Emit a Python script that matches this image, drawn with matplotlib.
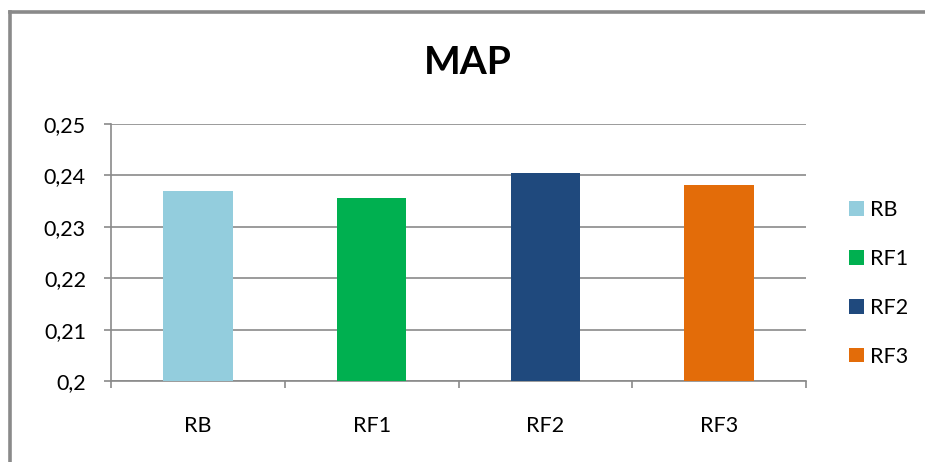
import matplotlib
matplotlib.use("Agg")
import matplotlib.pyplot as plt
from matplotlib.patches import Patch
from matplotlib.lines import Line2D

# Data
categories = ["RB", "RF1", "RF2", "RF3"]
map_values = [0.2370, 0.2356, 0.2405, 0.2382]
bar_colors = ["#93CDDD", "#00B050", "#1F497D", "#E36C09"]
y_ticks = [0.20, 0.21, 0.22, 0.23, 0.24, 0.25]
y_labels = ["0,2", "0,21", "0,22", "0,23", "0,24", "0,25"]

plt.rcParams['font.family'] = ['Lato', 'DejaVu Sans']
grey = "#8A8A8A"

W, H = 925, 462
fig = plt.figure(figsize=(W / 100, H / 100), dpi=100)
ax = fig.add_axes([111 / W, 1 - 381 / H, (806 - 111) / W, (381 - 124) / H])

x = list(range(len(categories)))
ax.bar(x, map_values, width=0.4, color=bar_colors, zorder=3)

ax.set_ylim(0.2, 0.25)
ax.set_xlim(-0.5, len(categories) - 0.5)
ax.set_yticks(y_ticks)
ax.set_yticklabels(y_labels)
ax.set_xticks(x)
ax.set_xticklabels(categories)
ax.set_xticks([i - 0.5 for i in range(len(categories) + 1)], minor=True)

ax.grid(axis='y', color=grey, linewidth=1.2, zorder=0)
for s in ["top", "right"]:
    ax.spines[s].set_visible(False)
for s in ["left", "bottom"]:
    ax.spines[s].set_color(grey)
    ax.spines[s].set_linewidth(1.2)

ax.tick_params(axis='y', length=5, width=1.2, color=grey, pad=13, labelsize=15.5)
ax.tick_params(axis='x', which='major', length=0, pad=25, labelsize=15.5)
ax.tick_params(axis='x', which='minor', length=5, width=1.2, color=grey)

# title
fig.text(468 / W, 1 - 63 / H, "MAP", ha='center', va='center',
         fontsize=28, fontweight='bold')

# legend
handles = [Patch(facecolor=c, edgecolor='none') for c in bar_colors]
fig.legend(handles, categories, loc='upper left',
           bbox_to_anchor=(849 / W, 1 - 200 / H), frameon=False,
           fontsize=15.5, borderpad=0, borderaxespad=0,
           handlelength=0.68, handleheight=0.68, handletextpad=0.3,
           labelspacing=1.34)

# chart frame (cropped on right and bottom)
fy = 1 - 12 / H
fx = 10 / W
fig.add_artist(Line2D([fx, fx], [-0.05, fy], transform=fig.transFigure,
                      color=grey, linewidth=2.6, solid_capstyle='projecting'))
fig.add_artist(Line2D([fx, 1.05], [fy, fy], transform=fig.transFigure,
                      color=grey, linewidth=2.6, solid_capstyle='projecting'))

fig.savefig("out.png", dpi=100)
